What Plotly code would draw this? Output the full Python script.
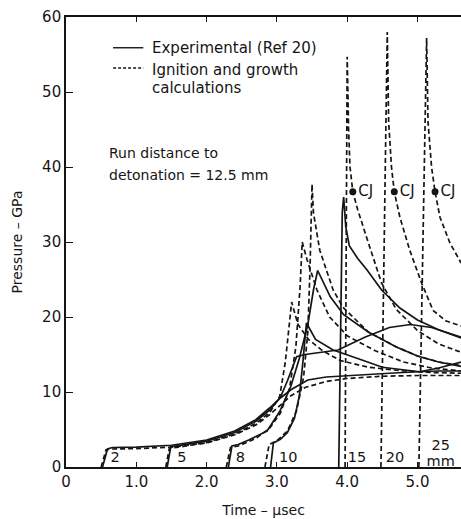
import plotly.graph_objects as go

# ---------------- data ----------------
# Experimental gauge records (solid)
t_exp_2 = [0.52, 0.59, 0.66, 1.0, 1.5, 2.0, 2.4, 2.7, 2.9, 3.05, 3.2, 3.44, 3.7, 4.0, 4.25, 4.6, 5.0, 5.3, 5.62]
p_exp_2 = [0.0, 2.4, 2.6, 2.65, 2.9, 3.6, 4.8, 6.3, 7.9, 9.2, 10.3, 11.6, 12.0, 12.2, 12.3, 12.5, 12.7, 12.8, 12.8]

t_exp_5 = [1.44, 1.49, 1.6, 2.0, 2.4, 2.7, 2.9, 3.05, 3.15, 3.28, 3.4, 3.55, 3.87, 4.25, 4.6, 4.9, 5.2, 5.62]
p_exp_5 = [0.0, 2.7, 2.85, 3.45, 4.6, 6.1, 7.6, 9.3, 11.5, 14.7, 15.0, 15.2, 15.6, 17.3, 18.6, 19.0, 18.6, 17.3]

t_exp_8 = [2.31, 2.36, 2.45, 2.6, 2.86, 3.04, 3.2, 3.32, 3.44, 3.52, 3.58, 3.76, 3.95, 4.3, 4.7, 5.0, 5.3, 5.62]
p_exp_8 = [0.0, 2.8, 3.0, 3.6, 4.8, 7.4, 10.8, 14.5, 19.0, 23.6, 26.2, 22.7, 20.3, 18.0, 16.0, 14.8, 14.0, 13.4]

t_exp_10 = [2.91, 2.95, 3.05, 3.15, 3.25, 3.32, 3.37, 3.42, 3.55, 3.8, 4.2, 4.5, 5.03, 5.3, 5.62]
p_exp_10 = [0.0, 3.2, 3.7, 4.6, 6.5, 9.5, 14.0, 19.2, 17.0, 15.6, 14.3, 13.3, 12.7, 13.2, 14.0]

t_exp_15 = [3.88, 3.93, 3.95, 3.98, 4.03, 4.15, 4.28, 4.49, 4.75, 5.0, 5.3, 5.62]
p_exp_15 = [0.0, 34.0, 36.0, 32.0, 29.5, 27.8, 26.3, 23.6, 21.2, 19.6, 18.3, 17.2]

# Ignition and growth calculations (dashed)
t_calc_2 = [0.5, 0.57, 0.65, 1.0, 1.5, 2.0, 2.4, 2.7, 2.9, 3.05, 3.2, 3.4, 3.7, 4.0, 4.5, 5.0, 5.62]
p_calc_2 = [0.0, 2.3, 2.4, 2.45, 2.65, 3.2, 4.3, 5.6, 7.0, 8.3, 9.5, 10.6, 11.4, 11.8, 12.1, 12.2, 12.2]

t_calc_5 = [1.42, 1.47, 1.6, 2.0, 2.4, 2.7, 2.9, 3.04, 3.12, 3.21, 3.3, 3.45, 3.65, 3.9, 4.3, 4.8, 5.2, 5.62]
p_calc_5 = [0.0, 2.5, 2.65, 3.25, 4.4, 5.8, 7.3, 9.4, 14.0, 22.0, 19.0, 17.0, 15.5, 14.2, 13.3, 12.8, 12.6, 12.5]

t_calc_8 = [2.28, 2.34, 2.45, 2.7, 2.9, 3.05, 3.18, 3.27, 3.33, 3.36, 3.43, 3.57, 3.75, 4.0, 4.4, 4.8, 5.2, 5.62]
p_calc_8 = [0.0, 2.6, 2.8, 3.8, 5.2, 7.2, 10.5, 16.0, 24.0, 30.0, 27.6, 23.6, 20.0, 17.5, 15.5, 14.0, 13.2, 12.8]

t_calc_10 = [2.83, 2.89, 3.0, 3.15, 3.28, 3.38, 3.44, 3.47, 3.5, 3.52, 3.61, 3.8, 3.94, 4.3, 4.7, 5.0, 5.3, 5.62]
p_calc_10 = [0.0, 3.0, 3.5, 4.8, 7.5, 12.0, 18.0, 26.0, 37.7, 33.9, 28.9, 23.6, 21.3, 18.0, 16.0, 14.8, 14.0, 13.5]

t_calc_15 = [3.97, 4.0, 4.02, 4.04, 4.08, 4.15, 4.28, 4.49, 4.7, 5.0, 5.3, 5.62]
p_calc_15 = [0.0, 54.7, 45.0, 40.0, 36.7, 34.3, 30.5, 24.5, 21.0, 18.2, 16.4, 15.3]

t_calc_20 = [4.48, 4.57, 4.59, 4.63, 4.67, 4.75, 4.89, 5.06, 5.22, 5.4, 5.62]
p_calc_20 = [0.0, 58.0, 46.0, 40.0, 36.7, 33.3, 28.9, 24.5, 20.9, 19.5, 18.8]

t_calc_25 = [5.02, 5.13, 5.15, 5.2, 5.25, 5.32, 5.46, 5.62]
p_calc_25 = [0.0, 57.2, 46.0, 40.0, 36.7, 33.3, 29.9, 27.2]

# Chapman-Jouguet points
cj_t = [4.08, 4.67, 5.25]
cj_p = [36.7, 36.7, 36.7]
cj_labels = ["CJ", "CJ", "CJ"]

# Gauge labels (mm)
gauge_labels = ["2", "5", "8", "10", "15", "20", "25", "mm"]
gauge_label_t = [0.70, 1.65, 2.48, 3.16, 4.14, 4.68, 5.33, 5.33]
gauge_label_p = [1.2, 1.2, 1.2, 1.2, 1.2, 1.2, 2.75, 0.6]

x_ticks = [0, 1, 2, 3, 4, 5]
x_tick_text = ["0", "1.0", "2.0", "3.0", "4.0", "5.0"]
y_ticks = [0, 10, 20, 30, 40, 50, 60]

# ---------------- figure ----------------
INK = "#151515"
exp_series = [(t_exp_2, p_exp_2), (t_exp_5, p_exp_5), (t_exp_8, p_exp_8),
              (t_exp_10, p_exp_10), (t_exp_15, p_exp_15)]
calc_series = [(t_calc_2, p_calc_2), (t_calc_5, p_calc_5), (t_calc_8, p_calc_8),
               (t_calc_10, p_calc_10), (t_calc_15, p_calc_15),
               (t_calc_20, p_calc_20), (t_calc_25, p_calc_25)]

fig = go.Figure()
for t, p in calc_series:
    fig.add_trace(go.Scatter(x=t, y=p, mode="lines", showlegend=False, hoverinfo="skip",
                             line=dict(color=INK, width=1.7, dash="5px,3px")))
for t, p in exp_series:
    fig.add_trace(go.Scatter(x=t, y=p, mode="lines", showlegend=False, hoverinfo="skip",
                             line=dict(color=INK, width=1.7)))

fig.add_trace(go.Scatter(x=cj_t, y=cj_p, mode="markers+text", text=cj_labels,
                         textposition="middle right", showlegend=False, hoverinfo="skip",
                         marker=dict(color=INK, size=7),
                         textfont=dict(family="DejaVu Sans", size=15, color=INK)))

fig.add_trace(go.Scatter(x=gauge_label_t, y=gauge_label_p, mode="text", text=gauge_labels,
                         showlegend=False, hoverinfo="skip",
                         textfont=dict(family="DejaVu Sans", size=14.5, color=INK)))

# legend (drawn by hand, like the original figure)
fig.add_shape(type="line", xref="x", yref="y", x0=0.67, x1=1.10, y0=55.9, y1=55.9,
              line=dict(color=INK, width=1.4))
fig.add_shape(type="line", xref="x", yref="y", x0=0.67, x1=1.10, y0=53.2, y1=53.2,
              line=dict(color=INK, width=1.4, dash="3px,2px"))
leg_font = dict(family="DejaVu Sans", size=15, color=INK)
ann_font = dict(family="DejaVu Sans", size=14, color=INK)
fig.add_annotation(x=1.20, y=55.9, xref="x", yref="y", text="Experimental (Ref 20)",
                   showarrow=False, xanchor="left", yanchor="middle", font=leg_font)
fig.add_annotation(x=1.20, y=52.9, xref="x", yref="y", text="Ignition and growth",
                   showarrow=False, xanchor="left", yanchor="middle", font=leg_font)
fig.add_annotation(x=1.20, y=50.5, xref="x", yref="y", text="calculations",
                   showarrow=False, xanchor="left", yanchor="middle", font=leg_font)
fig.add_annotation(x=0.58, y=41.9, xref="x", yref="y", text="Run distance to",
                   showarrow=False, xanchor="left", yanchor="middle", font=ann_font)
fig.add_annotation(x=0.58, y=38.9, xref="x", yref="y", text="detonation = 12.5 mm",
                   showarrow=False, xanchor="left", yanchor="middle", font=ann_font)

fig.update_layout(
    width=461, height=519,
    margin=dict(l=66, r=0, t=17, b=52),
    paper_bgcolor="white", plot_bgcolor="white",
    font=dict(family="DejaVu Sans", size=15, color=INK),
)
fig.update_xaxes(range=[0, 5.619], tickvals=x_ticks, ticktext=x_tick_text,
                 ticks="inside", ticklen=5, tickwidth=1.3, tickcolor=INK,
                 showline=True, linecolor=INK, linewidth=1.6, mirror="ticks",
                 showgrid=False, zeroline=False,
                 title=dict(text="Time – μsec", font=dict(size=14), standoff=15))
fig.update_yaxes(range=[0, 60], tickvals=y_ticks,
                 ticks="inside", ticklen=7, tickwidth=1.3, tickcolor=INK,
                 showline=True, linecolor=INK, linewidth=1.6,
                 showgrid=False, zeroline=False,
                 title=dict(text="Pressure – GPa", font=dict(size=14), standoff=16))

fig.write_html(
    "out.html",
    config={"displayModeBar": False},
    post_script=("document.body.style.margin='0';"
                 "document.body.style.overflow='hidden';"
                 "document.documentElement.style.overflow='hidden';"),
)
